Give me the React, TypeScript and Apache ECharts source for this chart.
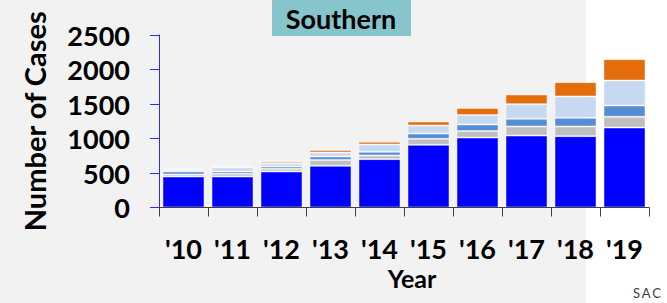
import React, { useEffect, useRef } from "react";
import * as echarts from "echarts";

const years = ["'10", "'11", "'12", "'13", "'14", "'15", "'16", "'17", "'18", "'19"];
const seriesNames = ["Group 1", "Group 2", "Group 3", "Group 4", "Group 5"];
const group1 = [449, 449, 522, 604, 701, 908, 1014, 1043, 1034, 1159];
const group2 = [29, 41, 39, 83, 53, 87, 93, 131, 140, 155];
const group3 = [44, 32, 33, 52, 53, 77, 96, 111, 126, 164];
const group4 = [24, 58, 44, 58, 106, 116, 136, 213, 309, 362];
const group5 = [15, 14, 24, 35, 39, 58, 102, 140, 208, 310];
const colors = ["#0000ff", "#bfbfbf", "#558ed5", "#c6d9f1", "#e46c0a"];
const yTicks = [0, 500, 1000, 1500, 2000, 2500];

const FONT = "Lato, 'Open Sans', sans-serif";

export default function App() {
  const ref = useRef<HTMLDivElement>(null);
  useEffect(() => {
    if (!ref.current) return;
    const chart = echarts.init(ref.current, null, { renderer: "svg" });
    const data = [group1, group2, group3, group4, group5];
    chart.setOption({
      animation: false,
      backgroundColor: "#ffffff",
      graphic: [
        { type: "rect", z: -10, shape: { x: 0, y: 0, width: 586, height: 303 }, style: { fill: "#f2f2f2" } },
        { type: "rect", shape: { x: 272, y: 0, width: 139, height: 36 }, style: { fill: "#86c5cc" } },
        {
          type: "text", x: 341, y: 18,
          style: { text: "Southern", fill: "#000", font: `bold 27px ${FONT}`, textAlign: "center", textVerticalAlign: "middle" },
        },
        {
          type: "text", x: 412, y: 278,
          style: { text: "Year", fill: "#000", font: `bold 25px ${FONT}`, textAlign: "center", textVerticalAlign: "middle" },
        },
        {
          type: "text", x: 647, y: 293,
          style: { text: "S\u2009A\u2009C", fill: "#404040", font: `13px ${FONT}`, textAlign: "center", textVerticalAlign: "middle" },
        },
      ],
      grid: { left: 159, width: 490, top: 35, height: 172.5 },
      xAxis: {
        type: "category",
        data: years,
        boundaryGap: true,
        axisLine: { show: true, lineStyle: { color: "#404040", width: 1 } },
        axisTick: { show: true, length: 9, alignWithLabel: false, lineStyle: { color: "#404040" } },
        axisLabel: { color: "#000", fontFamily: FONT, fontWeight: "bold", fontSize: 27, margin: 27 },
        z: 10,
      },
      yAxis: {
        type: "value",
        min: yTicks[0],
        max: yTicks[yTicks.length - 1],
        interval: 500,
        name: "Number of Cases",
        nameLocation: "middle",
        nameGap: 110,
        nameTextStyle: { color: "#000", fontFamily: FONT, fontWeight: "bold", fontSize: 29 },
        axisLine: { show: true, lineStyle: { color: "#2b2bff", width: 1 } },
        axisTick: { show: true, length: 9, lineStyle: { color: "#2b2bff" } },
        splitLine: { show: false },
        axisLabel: {
          color: "#000", fontFamily: FONT, fontWeight: "bold", fontSize: 27, margin: 29,
          formatter: (v: number) => String(v),
        },
      },
      series: data.map((d, i) => ({
        name: seriesNames[i],
        type: "bar",
        stack: "total",
        data: d,
        barWidth: 42,
        itemStyle: { color: colors[i], borderColor: "rgba(255,255,255,0.45)", borderWidth: 1 },
      })),
    });
    return () => chart.dispose();
  }, []);
  return <div ref={ref} style={{ position: "fixed", left: 0, top: 0, width: 667, height: 303 }} />;
}
